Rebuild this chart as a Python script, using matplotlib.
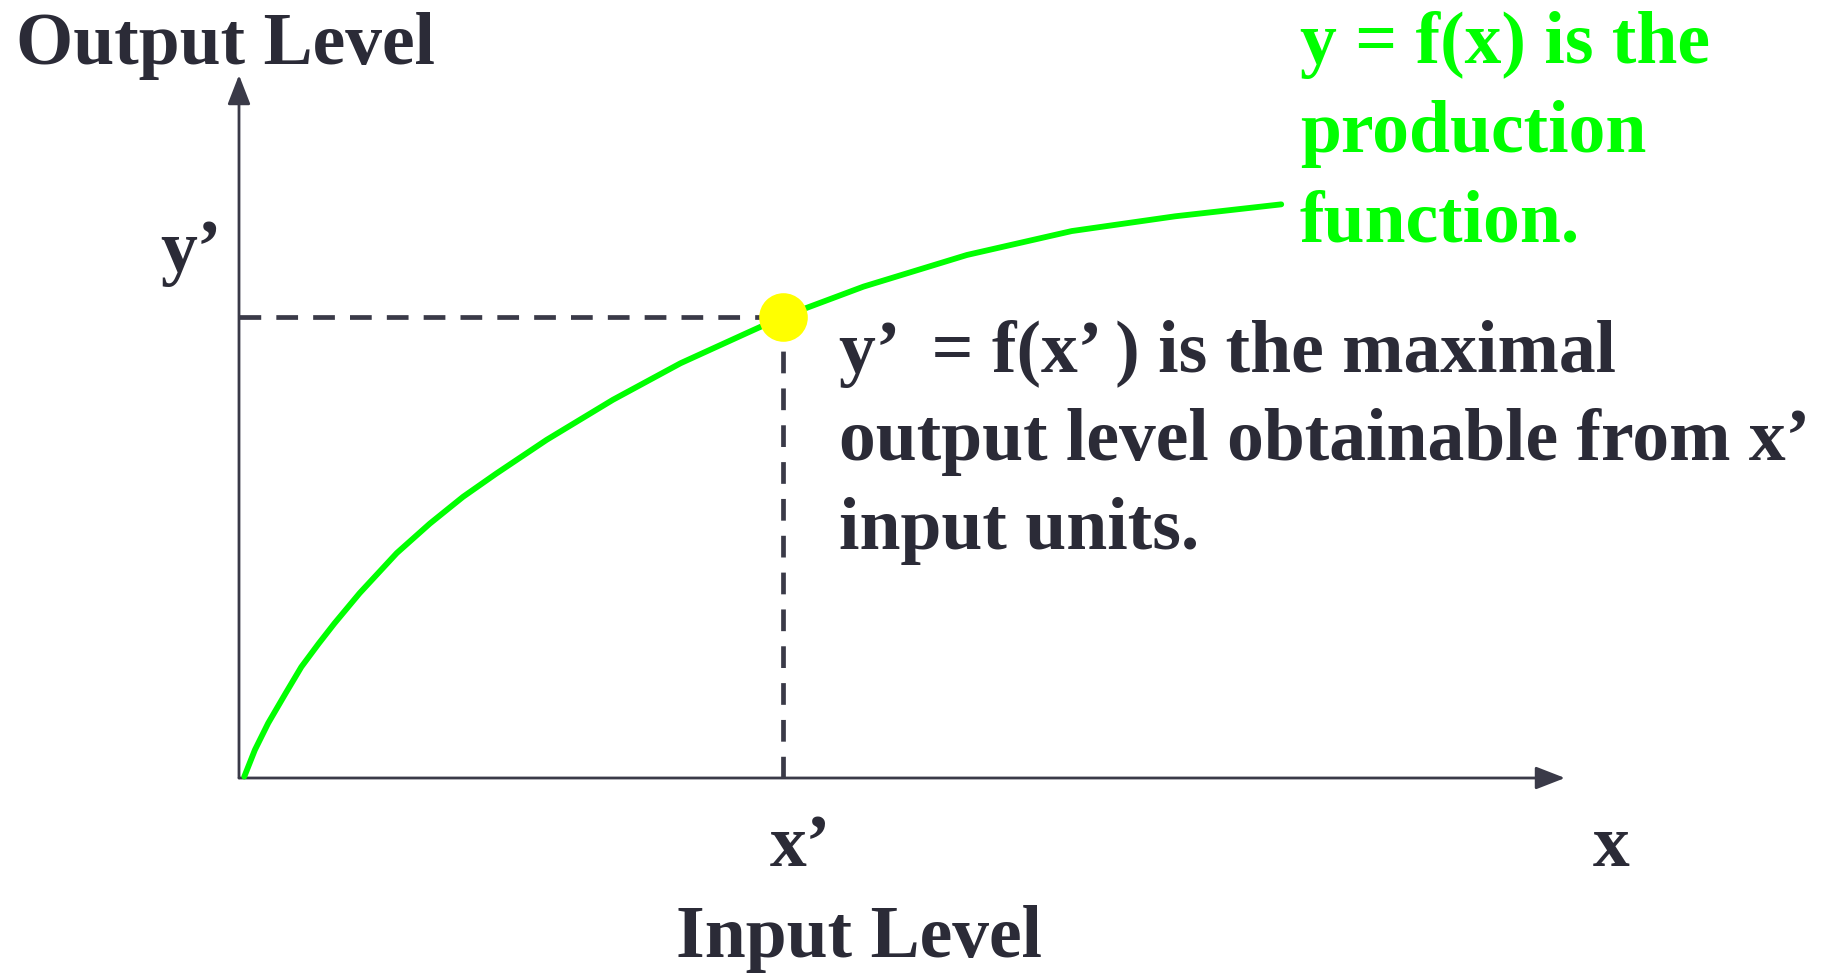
import numpy as np
import matplotlib
matplotlib.use('Agg')
import matplotlib.pyplot as plt

# production function y = f(x) (axis units 0..10)
curve_x = [0.04, 0.12, 0.22, 0.35, 0.47, 0.60, 0.72, 0.91, 1.19, 1.44, 1.69,
           1.94, 2.32, 2.82, 3.33, 3.83, 4.10, 4.71, 5.49, 6.28, 7.06, 7.86]
curve_y = [0.02, 0.40, 0.78, 1.20, 1.58, 1.91, 2.20, 2.63, 3.20, 3.62, 4.00,
           4.33, 4.81, 5.38, 5.90, 6.33, 6.56, 6.99, 7.44, 7.78, 7.99, 8.16]
x_prime = 4.10
y_prime = 6.56

W, H = 1833, 974
DARK = '#2b2b37'
LINE = '#3a3a48'
GREEN = '#00ff00'

plt.rcParams['font.family'] = ['Liberation Serif', 'DejaVu Serif']
plt.rcParams['font.weight'] = 'bold'

fig = plt.figure(figsize=(W / 100, H / 100), dpi=100)
fig.patch.set_facecolor('white')

# axes box: origin at (239, 778) px, arrow tips at x=1565, y=75
ax = fig.add_axes([239 / W, (H - 778) / H, (1565 - 239) / W, (778 - 75) / H])
ax.set_xlim(0, 10)
ax.set_ylim(0, 10)
ax.axis('off')

def px(x, y):
    return x / W, 1 - y / H

# axes with arrows
arr = dict(arrowstyle='-|>,head_length=0.9,head_width=0.35', color=LINE, lw=2.0,
           shrinkA=0, shrinkB=0, mutation_scale=20)
ax.annotate('', xy=(10, 0), xytext=(0, 0), arrowprops=arr, annotation_clip=False)
ax.annotate('', xy=(0, 10), xytext=(0, 0), arrowprops=arr, annotation_clip=False)

# dashed guides to the point
dash = (0, (4.6, 3.2))
ax.plot([0, x_prime], [y_prime, y_prime], color=LINE, lw=3.4, ls=dash, zorder=2)
ax.plot([x_prime, x_prime], [0, y_prime], color=LINE, lw=3.4, ls=dash, zorder=2)

# the production function
ax.plot(curve_x, curve_y, color=GREEN, lw=4.2, solid_capstyle='round',
        solid_joinstyle='round', zorder=3, clip_on=False)
ax.plot([x_prime], [y_prime], marker='o', ms=35, color='#ffff00', mec='none',
        zorder=4, clip_on=False)

fs = 53
fig.text(*px(16, 64), 'Output Level', fontsize=fs, color=DARK, va='baseline')
fig.text(*px(160, 271), 'y’', fontsize=fs, color=DARK, va='baseline')
fig.text(*px(770, 866), 'x’', fontsize=fs, color=DARK, va='baseline')
fig.text(*px(1593, 866), 'x', fontsize=fs, color=DARK, va='baseline')
fig.text(*px(676, 957), 'Input Level', fontsize=fs, color=DARK, va='baseline')

black_lines = ['y’  = f(x’ ) is the maximal',
               'output level obtainable from x’',
               'input units.']
for i, s in enumerate(black_lines):
    fig.text(*px(839, 372 + 88.5 * i), s, fontsize=fs, color=DARK, va='baseline')

green_lines = ['y = f(x) is the', 'production', 'function.']
for i, s in enumerate(green_lines):
    fig.text(*px(1300, 63 + 89.5 * i), s, fontsize=fs, color=GREEN, va='baseline')

fig.savefig('out.png', dpi=100, facecolor='white')
